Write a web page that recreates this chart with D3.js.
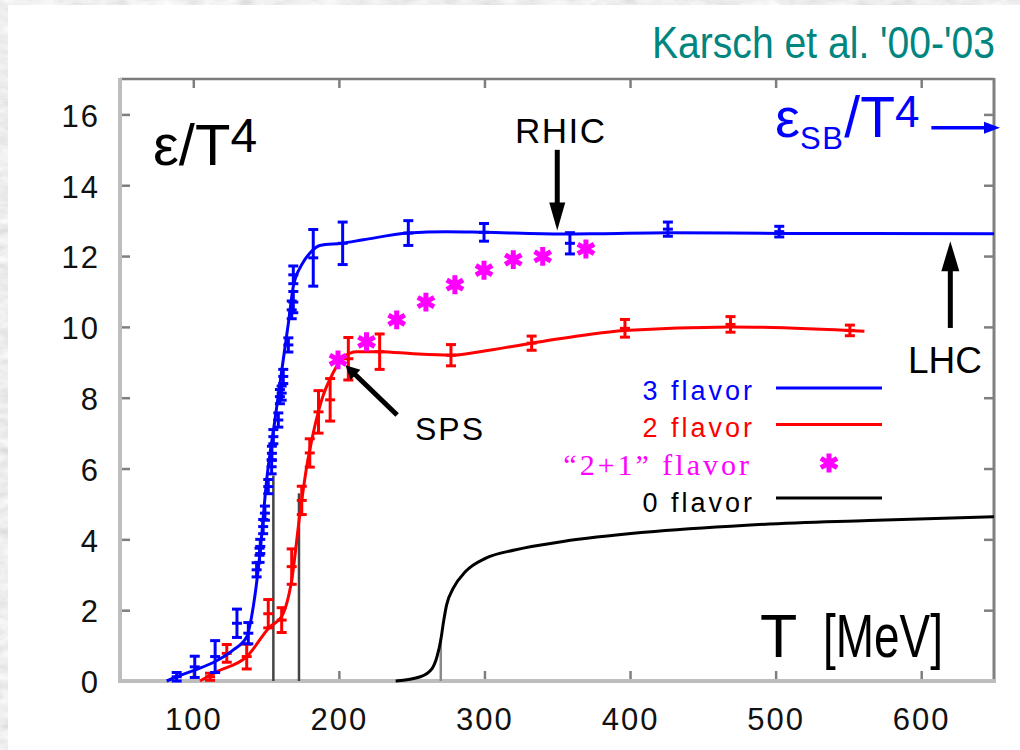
<!DOCTYPE html>
<html>
<head>
<meta charset="utf-8">
<script src="https://cdn.jsdelivr.net/npm/d3@7"></script>
<style>
  html, body { margin: 0; padding: 0; background: #fff; }
  svg { display: block; }
  .sans { font-family: "Liberation Sans", Arial, Helvetica, sans-serif; }
  .serif { font-family: "Liberation Serif", "Times New Roman", serif; }
</style>
</head>
<body>
<div id="chart"></div>
<script>
/* ── data: T [MeV], eps/T^4, error ── */
var xTicks = [100, 200, 300, 400, 500, 600];
var yTicks = [0, 2, 4, 6, 8, 10, 12, 14, 16];

var threeFlavorPts = [
  [88.6, 0.12, 0.12], [101, 0.40, 0.3], [115, 0.69, 0.45], [130, 1.63, 0.4],
  [137.8, 1.35, 0.3], [143.5, 3.14, 0.2], [145.5, 3.55, 0.2], [146, 3.8, 0.2],
  [148, 4.36, 0.2], [149.2, 4.74, 0.2], [151.5, 5.49, 0.2], [153.8, 6.05, 0.2],
  [154, 6.43, 0.2], [155, 6.9, 0.2], [158.4, 7.37, 0.2], [159.5, 8.03, 0.2],
  [160.7, 8.13, 0.2], [161.8, 8.6, 0.2], [165.3, 9.49, 0.2], [167.6, 10.48, 0.25],
  [168.7, 10.7, 0.3], [168.7, 11.47, 0.25], [182.4, 11.95, 0.8], [202.6, 12.36, 0.6],
  [247.7, 12.65, 0.35], [299.7, 12.67, 0.25], [358.7, 12.36, 0.3], [426, 12.76, 0.2],
  [502.5, 12.69, 0.15]
];
var threeFlavorFit = [
  [81.7, 0], [88.6, 0.12], [101, 0.31], [115, 0.55], [127.5, 0.88], [136.7, 1.25],
  [141.2, 2.1], [145.8, 3.6], [150.4, 5.68], [156, 7.35], [160.7, 8.75], [165.3, 10.1],
  [168.7, 11.14], [174.4, 11.75], [180, 12.08], [187, 12.3], [202, 12.36], [216.8, 12.46],
  [247.7, 12.65], [274, 12.69], [300, 12.67], [354, 12.62], [379, 12.63], [426, 12.66],
  [502.5, 12.64], [650, 12.63]
];

var twoFlavorPts = [
  [111.5, 0.12, 0.1], [123, 0.78, 0.25], [136.7, 0.69, 0.35], [151.5, 1.9, 0.4],
  [160.7, 1.72, 0.35], [167.6, 3.23, 0.5], [174.5, 5.1, 0.4], [180, 6.44, 0.4],
  [186, 7.6, 0.6], [194, 7.94, 0.6], [206.5, 9.1, 0.6], [228, 9.3, 0.5],
  [277, 9.2, 0.3], [332.4, 9.54, 0.2], [396.5, 9.96, 0.25], [469, 10.07, 0.22],
  [551, 9.9, 0.15]
];
var twoFlavorFit = [
  [104.6, 0], [116, 0.26], [136.7, 0.69], [152.7, 1.53], [160.7, 1.82], [167.6, 2.85],
  [173.3, 4.74], [177.9, 6.05], [182.4, 7.0], [188.2, 7.94], [196, 8.7], [203, 9.15],
  [212.4, 9.3], [228, 9.3], [251, 9.24], [277, 9.2], [297, 9.3], [332, 9.54],
  [365.6, 9.75], [396, 9.9], [469, 10.0], [561, 9.88]
];

var twoPlusOnePts = [
  [199.4, 9.07], [219, 9.58], [239.7, 10.2], [259.8, 10.7], [279.7, 11.19],
  [299.7, 11.6], [319.8, 11.9], [340, 11.99], [369.7, 12.2]
];

var zeroFlavorCurve = [
  [239, 0], [256, 0.12], [264, 0.35], [267.5, 0.7], [270, 1.16], [272, 1.7], [274, 2.15],
  [278.6, 2.62], [287, 3.09], [301, 3.47], [320.7, 3.7], [354, 3.94], [410, 4.2],
  [480, 4.4], [564, 4.53], [650, 4.64]
];

/* transition temperatures: [T, top of line] */
var tcLines = [[155, 5.8, '#444'], [172.6, 5.3, '#444'], [270, 1.2, '#8a8a8a']];
var sbValue = 15.62;

/* ── svg + frame ── */
var svg = d3.select('#chart').append('svg').attr('width', 1020).attr('height', 750);

var defs = svg.append('defs');
var filt = defs.append('filter').attr('id', 'marble')
  .attr('x', 0).attr('y', 0).attr('width', '100%').attr('height', '100%');
filt.append('feTurbulence').attr('type', 'fractalNoise')
  .attr('baseFrequency', '0.05 0.11').attr('numOctaves', 4).attr('seed', 7);
filt.append('feColorMatrix').attr('type', 'matrix')
  .attr('values', '0.2 0.2 0.2 0 0.55  0.2 0.2 0.2 0 0.55  0.2 0.2 0.2 0 0.55  0 0 0 0 1');

svg.append('rect').attr('width', 1020).attr('height', 750).attr('filter', 'url(#marble)');
svg.append('rect').attr('x', 8).attr('y', 5).attr('width', 1012).attr('height', 745).attr('fill', '#fff');

/* ── scales ── */
var x = d3.scaleLinear().domain([50, 650]).range([120.5, 994]);
var y = d3.scaleLinear().domain([0, 17]).range([681, 79]);

/* ── axes ── */
var tickCol = '#7f7f7f';
function styleAxis(g) {
  g.select('.domain').remove();
  g.selectAll('.tick line').attr('stroke', tickCol).attr('stroke-width', 2.5);
  g.selectAll('.tick text')
    .attr('class', 'sans')
    .attr('font-size', 31)
    .attr('letter-spacing', 2)
    .attr('fill', '#111');
}

svg.append('g').attr('transform', 'translate(0,681)')
  .call(d3.axisBottom(x).tickValues(xTicks).tickSizeInner(-10).tickSizeOuter(0).tickPadding(27))
  .call(styleAxis);
svg.append('g').attr('transform', 'translate(0,79)')
  .call(d3.axisTop(x).tickValues(xTicks).tickSizeInner(-9).tickSizeOuter(0).tickFormat(''))
  .call(styleAxis);
svg.append('g').attr('transform', 'translate(120,0)')
  .call(d3.axisLeft(y).tickValues(yTicks).tickSizeInner(-10).tickSizeOuter(0).tickPadding(20))
  .call(styleAxis)
  .selectAll('.tick text').attr('dy', '0.38em');
svg.append('g').attr('transform', 'translate(994,0)')
  .call(d3.axisRight(y).tickValues(yTicks).tickSizeInner(-10).tickSizeOuter(0).tickFormat(''))
  .call(styleAxis);

/* frame lines */
svg.append('line').attr('x1', 120).attr('x2', 994).attr('y1', 79).attr('y2', 79)
  .attr('stroke', '#7a7a7a').attr('stroke-width', 2.5);
svg.append('line').attr('x1', 994).attr('x2', 994).attr('y1', 78).attr('y2', 683)
  .attr('stroke', '#808080').attr('stroke-width', 3);
svg.append('line').attr('x1', 120).attr('x2', 120).attr('y1', 78).attr('y2', 683)
  .attr('stroke', '#bdbdbd').attr('stroke-width', 4);
svg.append('line').attr('x1', 118).attr('x2', 996).attr('y1', 681).attr('y2', 681)
  .attr('stroke', '#bdbdbd').attr('stroke-width', 4);

/* ── Tc lines ── */
svg.append('g').selectAll('line').data(tcLines).join('line')
  .attr('x1', function (d) { return x(d[0]); })
  .attr('x2', function (d) { return x(d[0]); })
  .attr('y1', y(0))
  .attr('y2', function (d) { return y(d[1]); })
  .attr('stroke', function (d) { return d[2]; })
  .attr('stroke-width', 2.5);

/* ── curves ── */
var line = d3.line()
  .x(function (d) { return x(d[0]); })
  .y(function (d) { return y(d[1]); })
  .curve(d3.curveMonotoneX);

svg.append('path').datum(zeroFlavorCurve).attr('d', line)
  .attr('fill', 'none').attr('stroke', '#000').attr('stroke-width', 3);

function drawErrPts(data, color) {
  var g = svg.append('g').attr('stroke', color).attr('stroke-width', 3).attr('fill', 'none');
  var p = g.selectAll('g').data(data).join('g');
  p.append('line')
    .attr('x1', function (d) { return x(d[0]); })
    .attr('x2', function (d) { return x(d[0]); })
    .attr('y1', function (d) { return y(d[1] - d[2]); })
    .attr('y2', function (d) { return y(d[1] + d[2]); });
  [-1, 0, 1].forEach(function (k) {
    p.append('line')
      .attr('x1', function (d) { return x(d[0]) - 5; })
      .attr('x2', function (d) { return x(d[0]) + 5; })
      .attr('y1', function (d) { return y(d[1] + k * d[2]); })
      .attr('y2', function (d) { return y(d[1] + k * d[2]); });
  });
}

svg.append('path').datum(twoFlavorFit).attr('d', line)
  .attr('fill', 'none').attr('stroke', '#ff0000').attr('stroke-width', 3);
drawErrPts(twoFlavorPts, '#ff0000');

svg.append('path').datum(threeFlavorFit).attr('d', line)
  .attr('fill', 'none').attr('stroke', '#0000ff').attr('stroke-width', 3);
drawErrPts(threeFlavorPts, '#0000ff');

var star = d3.symbol().type(d3.symbolAsterisk).size(250);
function drawStars(g) {
  g.attr('d', star).attr('fill', 'none').attr('stroke', '#ff00ff').attr('stroke-width', 5);
}
svg.append('g').selectAll('path').data(twoPlusOnePts).join('path')
  .attr('transform', function (d) { return 'translate(' + x(d[0]) + ',' + y(d[1]) + ')'; })
  .call(drawStars);

/* ── arrows ── */
function arrow(x1, y1, x2, y2, len, half, color, w) {
  var dx = x2 - x1, dy = y2 - y1, L = Math.sqrt(dx * dx + dy * dy);
  var ux = dx / L, uy = dy / L, bx = x2 - ux * len, by = y2 - uy * len;
  svg.append('line').attr('x1', x1).attr('y1', y1).attr('x2', bx + ux * 2).attr('y2', by + uy * 2)
    .attr('stroke', color).attr('stroke-width', w);
  svg.append('path')
    .attr('d', 'M' + x2 + ',' + y2 + 'L' + (bx - uy * half) + ',' + (by + ux * half) +
      'L' + (bx + uy * half) + ',' + (by - ux * half) + 'Z')
    .attr('fill', color);
}
arrow(x(350), y(15.0), x(350), y(12.72), 28, 8, '#000', 5);      // RHIC
arrow(x(620), y(9.97), x(620), y(12.42), 30, 9, '#000', 5);      // LHC
arrow(x(240), y(7.51), x(204.5), y(8.92), 14, 7, '#000', 5);     // SPS
arrow(x(607), y(sbValue), 1000, y(sbValue), 16, 6, '#0000ff', 3.5); // SB limit

/* ── texts ── */
function txt(tx, ty, s, size, color, cls) {
  return svg.append('text').attr('class', cls || 'sans')
    .attr('x', tx).attr('y', ty).attr('font-size', size).attr('fill', color || '#000').text(s);
}
txt(515, 143, 'RHIC', 35).attr('letter-spacing', 1.5);
txt(908, 373, 'LHC', 37);
txt(415, 440, 'SPS', 32).attr('letter-spacing', 2);

txt(0, 0, "Karsch et al. '00-'03", 40, '#00857f')
  .attr('transform', 'translate(652,58) scale(1,1.1)')
  .attr('textLength', 343).attr('lengthAdjust', 'spacingAndGlyphs');

var et = svg.append('text').attr('class', 'sans').attr('x', 153).attr('y', 165).attr('fill', '#000');
et.append('tspan').attr('font-size', 58).text('ε/T');
et.append('tspan').attr('font-size', 48).attr('dy', -13).text('4');

var sb = svg.append('text').attr('class', 'sans').attr('x', 775).attr('y', 137).attr('fill', '#0000ff');
sb.append('tspan').attr('font-size', 56).text('ε');
sb.append('tspan').attr('font-size', 31).attr('dy', 12).attr('letter-spacing', 1.5).text('SB');
sb.append('tspan').attr('font-size', 57).attr('dy', -12).text('/T');
sb.append('tspan').attr('font-size', 44).attr('dy', -10).text('4');

txt(760, 657, 'T', 61);
txt(823, 657, '[MeV]', 61).attr('textLength', 120).attr('lengthAdjust', 'spacingAndGlyphs');

/* ── legend ── */
var legX = 755, lineX1 = 776, lineX2 = 882;
txt(legX, 400, '3 flavor', 27, '#0000ff').attr('text-anchor', 'end').attr('letter-spacing', 3);
txt(legX, 437, '2 flavor', 27, '#ff0000').attr('text-anchor', 'end').attr('letter-spacing', 3);
txt(legX - 3, 475, '\u201c2+1\u201d flavor', 30, '#ff00ff', 'serif').attr('text-anchor', 'end').attr('letter-spacing', 3);
txt(legX, 512, '0 flavor', 27, '#000').attr('text-anchor', 'end').attr('letter-spacing', 3);

svg.append('line').attr('x1', lineX1).attr('x2', lineX2).attr('y1', 388).attr('y2', 388)
  .attr('stroke', '#0000ff').attr('stroke-width', 3);
svg.append('line').attr('x1', lineX1).attr('x2', lineX2).attr('y1', 424.5).attr('y2', 424.5)
  .attr('stroke', '#ff0000').attr('stroke-width', 3);
svg.append('path').attr('transform', 'translate(829,463)').call(drawStars);
svg.append('line').attr('x1', lineX1).attr('x2', lineX2).attr('y1', 498).attr('y2', 498)
  .attr('stroke', '#000').attr('stroke-width', 3);
</script>
</body>
</html>
